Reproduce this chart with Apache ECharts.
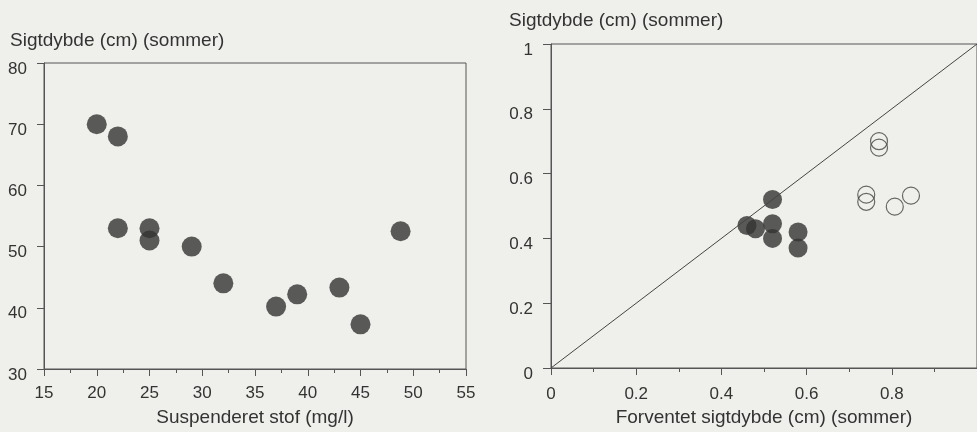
<!DOCTYPE html>
<html>
<head>
<meta charset="utf-8">
<script src="https://cdn.jsdelivr.net/npm/echarts@6/dist/echarts.min.js"></script>
<style>
html,body{margin:0;padding:0;background:#efefeb;}
#c{width:977px;height:432px;}
</style>
</head>
<body>
<div id="c"></div>
<script>
// Left panel: suspended matter vs Secchi depth
const leftX = [20, 22, 22, 25, 25, 29, 32, 37, 39, 43, 45, 48.8];
const leftY = [70, 68, 53, 53, 51, 50, 44, 40.2, 42.2, 43.3, 37.3, 52.5];
// Right panel: expected vs observed Secchi depth
const filledX = [0.52, 0.46, 0.48, 0.52, 0.52, 0.58, 0.58];
const filledY = [0.52, 0.44, 0.43, 0.445, 0.40, 0.42, 0.37];
const openX = [0.77, 0.77, 0.74, 0.74, 0.807, 0.845];
const openY = [0.70, 0.68, 0.535, 0.513, 0.498, 0.532];
const lineX = [0, 1];
const lineY = [0, 1];

const yTitle = 'Sigtdybde (cm) (sommer)';
const leftXTitle = 'Suspenderet stof (mg/l)';
const rightXTitle = 'Forventet sigtdybde (cm) (sommer)';

const zip = (a, b) => a.map((v, i) => [v, b[i]]);
const FONT = 'Liberation Sans, Arial, sans-serif';
const AX = '#555';
const TXT = '#333';

const chart = echarts.init(document.getElementById('c'));
chart.setOption({
  backgroundColor: '#efefeb',
  animation: false,
  textStyle: {fontFamily: FONT},
  title: [
    {text: yTitle, left: 10, top: 31, padding: 0,
     textStyle: {fontSize: 19, fontWeight: 'normal', color: TXT, fontFamily: FONT}},
    {text: yTitle, left: 509, top: 11, padding: 0,
     textStyle: {fontSize: 19, fontWeight: 'normal', color: TXT, fontFamily: FONT}}
  ],
  grid: [
    {left: 44, top: 63, width: 422, height: 311, show: true, borderColor: AX, borderWidth: 1, backgroundColor: 'transparent'},
    {left: 551, top: 44, width: 433, height: 325, show: true, borderColor: AX, borderWidth: 1, backgroundColor: 'transparent'}
  ],
  xAxis: [
    {gridIndex: 0, type: 'value', min: 15, max: 55, interval: 5,
     name: leftXTitle, nameLocation: 'middle', nameGap: 39,
     nameTextStyle: {fontSize: 19, color: TXT, fontFamily: FONT},
     axisLine: {show: true, lineStyle: {color: AX}},
     axisTick: {show: true, inside: false, length: 7, lineStyle: {color: AX}},
     minorTick: {show: true, splitNumber: 2, length: 4, lineStyle: {color: AX}},
     axisLabel: {fontSize: 17, color: TXT, margin: 16, fontFamily: FONT},
     splitLine: {show: false}},
    {gridIndex: 1, type: 'value', min: 0, max: 1, interval: 0.2,
     name: rightXTitle, nameLocation: 'middle', nameGap: 40,
     nameTextStyle: {fontSize: 19, color: TXT, fontFamily: FONT},
     axisLine: {show: true, onZero: false, lineStyle: {color: AX}},
     axisTick: {show: true, inside: false, length: 7, lineStyle: {color: AX}},
     minorTick: {show: true, splitNumber: 2, length: 4, lineStyle: {color: AX}},
     axisLabel: {fontSize: 17, color: TXT, margin: 18, fontFamily: FONT, showMaxLabel: false},
     splitLine: {show: false}}
  ],
  yAxis: [
    {gridIndex: 0, type: 'value', min: 30, max: 80, interval: 10,
     axisLine: {show: true, lineStyle: {color: AX}},
     axisTick: {show: true, inside: false, length: 7, lineStyle: {color: AX}},
     axisLabel: {fontSize: 17, color: TXT, margin: 17, fontFamily: FONT, verticalAlign: 'top', lineHeight: 12},
     splitLine: {show: false}},
    {gridIndex: 1, type: 'value', min: 0, max: 1, interval: 0.2,
     axisLine: {show: true, onZero: false, lineStyle: {color: AX}},
     axisTick: {show: true, inside: false, length: 8, lineStyle: {color: AX}},
     axisLabel: {fontSize: 17, color: TXT, margin: 18, fontFamily: FONT, verticalAlign: 'top', lineHeight: 12},
     splitLine: {show: false}}
  ],
  series: [
    {type: 'scatter', xAxisIndex: 0, yAxisIndex: 0, data: zip(leftX, leftY),
     symbol: 'circle', symbolSize: 20, itemStyle: {color: '#333'}},
    {type: 'line', xAxisIndex: 1, yAxisIndex: 1, data: zip(lineX, lineY),
     showSymbol: false, symbol: 'none', lineStyle: {color: '#444', width: 1}},
    {type: 'scatter', xAxisIndex: 1, yAxisIndex: 1, data: zip(filledX, filledY),
     symbol: 'circle', symbolSize: 19, itemStyle: {color: '#333'}},
    {type: 'scatter', xAxisIndex: 1, yAxisIndex: 1, data: zip(openX, openY),
     symbol: 'circle', symbolSize: 17,
     itemStyle: {color: 'rgba(0,0,0,0)', borderColor: '#444', borderWidth: 1.2}}
  ]
});
</script>
</body>
</html>
